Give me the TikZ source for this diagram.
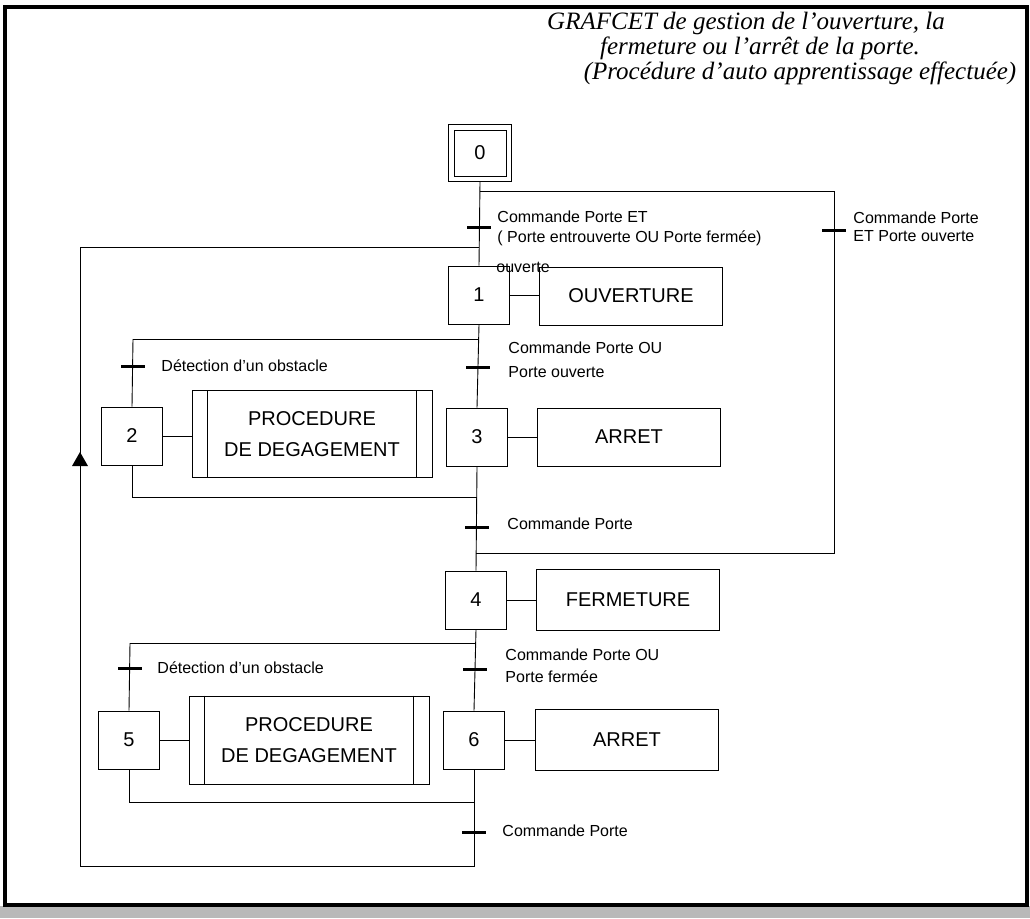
\documentclass[tikz,border=0pt]{standalone}
\usepackage{fontspec}
\setmainfont{Liberation Serif}
\setsansfont{Liberation Sans}
\usetikzlibrary{arrows.meta}
\newcommand\trbar[1]{\draw[bar] ([xshift=-12pt]#1) -- ([xshift=12pt]#1);}
\begin{document}
\begin{tikzpicture}[x=1pt,y=-1pt,
  line width=0.9pt,
  stepbox/.style={draw, minimum width=61pt, minimum height=58pt, inner sep=0pt, font=\sffamily\fontsize{20}{22}\selectfont},
  actbox/.style={draw, minimum width=183pt, minimum height=58pt, inner sep=0pt, font=\sffamily\fontsize{20}{22}\selectfont},
  procbox/.style={draw, minimum width=240pt, minimum height=87pt, inner sep=0pt, align=center, font=\sffamily\fontsize{20}{31}\selectfont},
  lbl/.style={anchor=west, inner sep=0pt, font=\sffamily\fontsize{16}{19}\selectfont},
  ttl/.style={inner sep=0pt, font=\itshape\fontsize{25}{27}\selectfont},
  bar/.style={line width=3pt},
]
\useasboundingbox (0,0) rectangle (1030,918);
\fill[gray!55] (0,906) rectangle (1030,918);
\draw[line width=4pt] (5,7) rectangle (1027,905);

% title
\node[ttl] (ti1) at (746,23) {GRAFCET de gestion de l’ouverture, la};
\node[ttl] (ti2) at (760,48) {fermeture ou l’arrêt de la porte.};
\node[ttl] (ti3) at (800,73) {(Procédure d’auto apprentissage effectuée)};

% steps
\node[stepbox, minimum width=63pt, minimum height=57pt] (s0) at (480,153) {0};
\draw ([shift={(6,6)}]s0.north west) rectangle ([shift={(-6,-6)}]s0.south east);
\node[stepbox] (s1) at (479,295) {1};
\node[stepbox] (s2) at (132,436) {2};
\node[stepbox] (s3) at (477,437) {3};
\node[stepbox] (s4) at (476,600) {4};
\node[stepbox] (s5) at (129,740) {5};
\node[stepbox] (s6) at (474,740) {6};

% actions
\node[actbox] (a1) at (631,296) {OUVERTURE};
\node[procbox] (p1) at (312,434) {PROCEDURE\\DE DEGAGEMENT};
\node[actbox] (r1) at (629,437) {ARRET};
\node[actbox, minimum height=61pt] (f4) at (628,600) {FERMETURE};
\node[procbox, minimum height=88pt] (p2) at (309,740) {PROCEDURE\\DE DEGAGEMENT};
\node[actbox, minimum height=61pt] (r2) at (627,740) {ARRET};
\foreach \p in {p1,p2}{
  \draw ([xshift=16pt]\p.north west) -- ([xshift=16pt]\p.south west);
  \draw ([xshift=-16pt]\p.north east) -- ([xshift=-16pt]\p.south east);
}

% action links
\draw (s1.east) -- (s1.east -| a1.west);
\draw (s2.east) -- (s2.east -| p1.west);
\draw (s3.east) -- (s3.east -| r1.west);
\draw (s4.east) -- (s4.east -| f4.west);
\draw (s5.east) -- (s5.east -| p2.west);
\draw (s6.east) -- (s6.east -| r2.west);

% coordinates
\coordinate (d0r) at (834,191);
\coordinate (j4r) at (834,553);
\coordinate (lb) at (80,866);
\coordinate (lt) at (80,247);
\coordinate (d1) at (133,339);
\coordinate (j1) at (477,497);
\coordinate (d4) at (130,643);
\coordinate (j6) at (474,802);

% main connectors
\draw (s0.south) -- (s1.north);
\draw (s0.south |- d0r) -- (d0r) -- (j4r) -- (j4r -| s4.north);
\draw (s6.south) -- (s6.south |- lb) -- (lb) -- (lt) -- (lt -| s1.north);
\coordinate (arr) at (80,459);
\fill ([shift={(0,-7)}]arr) -- ([shift={(-8,7)}]arr) -- ([shift={(8,7)}]arr) -- cycle;

\draw (d1) -- (d1 -| s1.south);
\draw (d1) -- (s2.north);
\draw (s1.south) -- (s3.north);
\draw (s2.south) -- (s2.south |- j1) -- (j1);
\draw (s3.south) -- (s4.north);

\draw (d4) -- (d4 -| s4.south);
\draw (d4) -- (s5.north);
\draw (s4.south) -- (s6.north);
\draw (s5.south) -- (s5.south |- j6) -- (j6);

% transitions
\coordinate (t01) at (479,227);
\coordinate (t0r) at (834,230);
\coordinate (t12) at (133,366);
\coordinate (t13) at (478,367);
\coordinate (t34) at (477,527);
\coordinate (t45) at (130,668);
\coordinate (t46) at (475,669);
\coordinate (t6) at (474,832);
\foreach \t in {t01,t0r,t12,t13,t34,t45,t46,t6}{\trbar{\t}}

% transition labels
\node[lbl] (l01a) at (497,217) {Commande Porte ET};
\node[lbl] (l01b) at (497,238) {( Porte entrouverte OU Porte fermée)};
\node[lbl] (l01c) at (496,267) {ouverte};
\node[lbl] (l0ra) at (853,218) {Commande Porte};
\node[lbl] (l0rb) at (853,236) {ET Porte ouverte};
\node[lbl] (l12) at (161,366) {Détection d’un obstacle};
\node[lbl] (l13a) at (508,348) {Commande Porte OU};
\node[lbl] (l13b) at (508,372) {Porte ouverte};
\node[lbl] (l34) at (507,524) {Commande Porte};
\node[lbl] (l45) at (157,668) {Détection d’un obstacle};
\node[lbl] (l46a) at (505,655) {Commande Porte OU};
\node[lbl] (l46b) at (505,677) {Porte fermée};
\node[lbl] (l6) at (502,831) {Commande Porte};
\end{tikzpicture}
\end{document}
